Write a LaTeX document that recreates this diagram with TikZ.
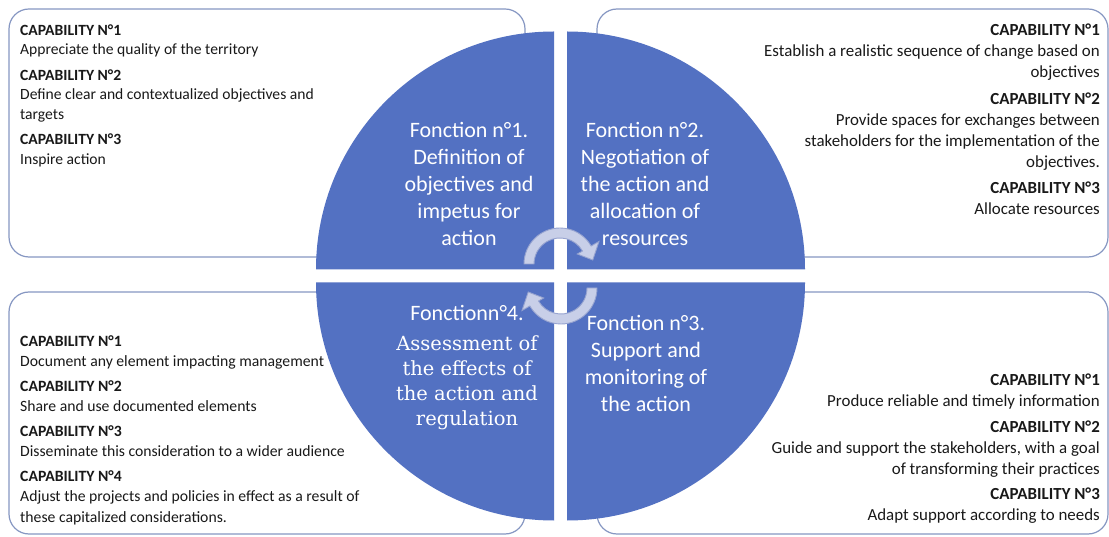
\documentclass[tikz,border=0pt]{standalone}
\usepackage{fontspec}
\setmainfont{Carlito}
\newfontfamily\qserif{DejaVu Serif}
\definecolor{quadblue}{RGB}{83,113,194}
\definecolor{boxline}{RGB}{134,151,194}
\definecolor{arrowfill}{RGB}{200,207,232}
\definecolor{arrowline}{RGB}{150,163,208}
\definecolor{textdark}{RGB}{25,25,25}
\newcommand\capab[1]{\textbf{CAPABILITY N°#1}}
\begin{document}
\begin{tikzpicture}[x=1pt,y=1pt,
  capbox/.style={draw=boxline, line width=1.2pt, fill=white, rounded corners=20pt},
  quad/.style={fill=quadblue},
  cyclearrow/.style={fill=arrowfill, draw=arrowline, line width=0.9pt},
  boxtext/.style={inner sep=0pt, text=textdark},
  quadtext/.style={inner sep=0pt, text=white, align=center, font=\fontsize{22}{27}\selectfont}]
\useasboundingbox (0,0) rectangle (1109,536);
\fill[white] (0,0) rectangle (1109,536);

% capability boxes
\draw[capbox] (9,279) rectangle (525,527);
\draw[capbox] (597,279) rectangle (1108,527);
\draw[capbox] (9,2) rectangle (525,244);
\draw[capbox] (597,2) rectangle (1108,244);

% quadrants
\fill[quad] (554,266.5) -- ++(-238,0) arc[start angle=180, end angle=90, radius=238] -- cycle;
\fill[quad] (567,266.5) -- ++(0,238) arc[start angle=90, end angle=0, radius=238] -- cycle;
\fill[quad] (567,253.5) -- ++(238,0) arc[start angle=0, end angle=-90, radius=238] -- cycle;
\fill[quad] (554,253.5) -- ++(0,-238) arc[start angle=270, end angle=180, radius=238] -- cycle;

% cycle arrows
\coordinate (ct) at (560,272);
\coordinate (cb) at (561,248);
\draw[cyclearrow] ([shift={(ct)}]180:36) arc[start angle=180, end angle=30, radius=36]
  -- ([shift={(ct)}]30:45) -- ([shift={(ct)}]7:33) -- ([shift={(ct)}]30:20)
  -- ([shift={(ct)}]30:26) arc[start angle=30, end angle=180, radius=26] -- cycle;
\draw[cyclearrow] ([shift={(cb)}]0:36) arc[start angle=0, end angle=-150, radius=36]
  -- ([shift={(cb)}]-150:45) -- ([shift={(cb)}]187:33) -- ([shift={(cb)}]-150:20)
  -- ([shift={(cb)}]-150:26) arc[start angle=-150, end angle=0, radius=26] -- cycle;

% function texts
\node[quadtext, anchor=north] (f1) at (469,417) {\rule{0pt}{18pt}Fonction n°1.\\ Definition of\\ objectives and\\ impetus for\\ action};
\node[quadtext, anchor=north] (f2) at (645,417) {\rule{0pt}{18pt}Fonction n°2.\\ Negotiation of\\ the action and\\ allocation of\\ resources};
\node[quadtext, anchor=north] (f3) at (646,224) {\rule{0pt}{18pt}Fonction n°3.\\ Support and\\ monitoring of\\ the action};
\node[quadtext, anchor=north, font=\qserif\fontsize{19.5}{25}\selectfont] (f4) at (467,234)
  {\rule{0pt}{18pt}{\rmfamily\fontsize{22}{27}\selectfont Fonctionn°4.}\\[5pt] Assessment of\\ the effects of\\ the action and\\ regulation};

% capability texts
\node[boxtext, anchor=north west, align=left, font=\fontsize{15.6}{19.5}\selectfont] (tl) at (20,513)
  {\rule{0pt}{12pt}\capab{1}\\ Appreciate the quality of the territory\\[6pt]
   \capab{2}\\ Define clear and contextualized objectives and\\ targets\\[6pt]
   \capab{3}\\ Inspire action};
\node[boxtext, anchor=north east, align=right, font=\fontsize{16.9}{21}\selectfont] (tr) at (1100,512.6)
  {\rule{0pt}{12pt}\capab{1}\\ Establish a realistic sequence of change based on\\ objectives\\[5.5pt]
   \capab{2}\\ Provide spaces for exchanges between\\ stakeholders for the implementation of the\\ objectives.\\[5.5pt]
   \capab{3}\\ Allocate resources};
\node[boxtext, anchor=north west, align=left, font=\fontsize{15.7}{20.3}\selectfont] (bl) at (20,202)
  {\rule{0pt}{12pt}\capab{1}\\ Document any element impacting management\\[4.5pt]
   \capab{2}\\ Share and use documented elements\\[4.5pt]
   \capab{3}\\ Disseminate this consideration to a wider audience\\[4.5pt]
   \capab{4}\\ Adjust the projects and policies in effect as a result of\\ these capitalized considerations.};
\node[boxtext, anchor=north east, align=right, font=\fontsize{16.9}{21}\selectfont] (br) at (1100,162.6)
  {\rule{0pt}{12pt}\capab{1}\\ Produce reliable and timely information\\[4.5pt]
   \capab{2}\\ Guide and support the stakeholders, with a goal\\ of transforming their practices\\[4.5pt]
   \capab{3}\\ Adapt support according to needs};
\end{tikzpicture}
\end{document}
